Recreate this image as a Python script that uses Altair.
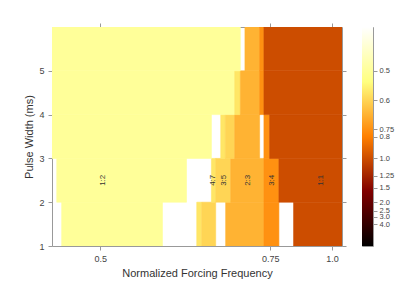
import altair as alt
import pandas as pd

# ---- data ----
ratio_names = ["1:2", "4:7", "3:5", "2:3", "3:4", "1:1"]
ratio_values = [0.5, 0.5714, 0.6, 0.6667, 0.75, 1.0]

# cells: pulse-width row (lower edge), forcing-frequency start/end, locking ratio
row_lo = [1, 1, 1, 1, 1, 1,
          2, 2, 2, 2, 2, 2,
          3, 3, 3, 3, 3, 3,
          4, 4, 4, 4, 4,
          5, 5, 5, 5]
f_start = [0.4707, 0.6055, 0.6129, 0.6521, 0.7334, 0.8215,
           0.4673, 0.6279, 0.6349, 0.6613, 0.7334, 0.7743,
           0.4500, 0.6434, 0.6516, 0.6689, 0.7334, 0.7482,
           0.4500, 0.6689, 0.6801, 0.7228, 0.7334,
           0.4500, 0.6896, 0.7228, 0.7334]
f_end = [0.5611, 0.6129, 0.6349, 0.7334, 0.7743, 1.1000,
         0.5912, 0.6349, 0.6613, 0.7334, 0.7743, 1.1000,
         0.6279, 0.6516, 0.6689, 0.7228, 0.7482, 1.1000,
         0.6689, 0.6801, 0.7228, 0.7334, 1.1000,
         0.6801, 0.7228, 0.7334, 1.1000]
cell_ratio = ["1:2", "4:7", "3:5", "2:3", "3:4", "1:1",
              "1:2", "4:7", "3:5", "2:3", "3:4", "1:1",
              "1:2", "4:7", "3:5", "2:3", "3:4", "1:1",
              "1:2", "4:7", "2:3", "3:4", "1:1",
              "1:2", "2:3", "3:4", "1:1"]

label_text = ["1:2", "4:7", "3:5", "2:3", "3:4", "1:1"]
label_x = [0.502, 0.630, 0.6487, 0.6954, 0.7536, 0.9355]
label_y = [2.5, 2.5, 2.5, 2.5, 2.5, 2.5]

x_ticks = [0.5, 0.75, 1.0]
x_tick_labels = ["0.5", "0.75", "1.0"]
y_ticks = [1, 2, 3, 4, 5]
cbar_ticks = [0.5, 0.6, 0.75, 0.8, 1.0, 1.25, 1.5, 2.0, 2.5, 3.0, 4.0]
cbar_tick_labels = ["0.5", "0.6", "0.75", "0.8", "1.0", "1.25", "1.5", "2.0", "2.5", "3.0", "4.0"]

# ---- tables ----
rv = dict(zip(ratio_names, ratio_values))
cells = pd.DataFrame({
    "y0": row_lo,
    "y1": [r + 1 for r in row_lo],
    "f0": f_start,
    "f1": f_end,
    "ratio": cell_ratio,
})
cells["inv"] = [1.0 / rv[r] for r in cell_ratio]

labels = pd.DataFrame({"t": label_text, "fx": label_x, "fy": label_y})

afmhot = ["#000000", "#800000", "#ff8000", "#ffff80", "#ffffff"]
FONT = "Liberation Sans"

xscale = alt.Scale(type="pow", exponent=-1.9, domain=[0.4641, 1.0681], nice=False, zero=False)
yscale = alt.Scale(domain=[1, 6], nice=False, zero=False)
cscale = alt.Scale(domain=[0, 2.5], range=afmhot, interpolate="rgb")


def chain(vals, labs, tol=None):
    parts = []
    for v, l in zip(vals[:-1], labs[:-1]):
        if tol:
            parts.append(f"abs(datum.value - {v!r}) < {tol} ? '{l}'")
        else:
            parts.append(f"datum.value == {v!r} ? '{l}'")
    return " : ".join(parts) + f" : '{labs[-1]}'"


rects = alt.Chart(cells).mark_rect(clip=True, strokeWidth=0.6).encode(
    x=alt.X("f0:Q", scale=xscale,
            axis=alt.Axis(values=x_ticks, labelExpr=chain(x_ticks, x_tick_labels),
                          title="Normalized Forcing Frequency", domain=False)),
    x2="f1:Q",
    y=alt.Y("y0:Q", scale=yscale,
            axis=alt.Axis(values=y_ticks, title="Pulse Width (ms)", domain=False)),
    y2="y1:Q",
    color=alt.Color("inv:Q", scale=cscale, legend=None),
    stroke=alt.Stroke("inv:Q", scale=cscale, legend=None),
)

texts = alt.Chart(labels).mark_text(angle=270, fontSize=8, color="#333", font=FONT).encode(
    x=alt.X("fx:Q", scale=xscale,
            axis=alt.Axis(orient="top", values=x_ticks, labels=False, title=None, domain=False)),
    y=alt.Y("fy:Q", scale=yscale,
            axis=alt.Axis(orient="right", values=y_ticks, labels=False, title=None, domain=False)),
    text="t:N",
)

main = alt.layer(rects, texts).resolve_axis(x="independent", y="independent").properties(
    width=290, height=219)

cb_u = [1.0 / v for v in cbar_ticks]
cb = alt.Chart(pd.DataFrame({"lo": [0.0], "hi": [2.5]})).mark_rect(
    fill=alt.LinearGradient(
        gradient="linear",
        stops=[alt.GradientStop(color=c, offset=i / 4) for i, c in enumerate(afmhot)],
        x1=0, x2=0, y1=1, y2=0,
    )
).encode(
    y=alt.Y("lo:Q", scale=alt.Scale(domain=[0, 2.5], nice=False, zero=False),
            axis=alt.Axis(orient="right", values=cb_u, title=None, domain=False,
                          labelExpr=chain(cb_u, cbar_tick_labels, tol=1e-6),
                          labelOverlap=False, labelFontSize=7.5, labelPadding=2)),
    y2="hi:Q",
    x=alt.value(0),
    x2=alt.value(11),
).properties(width=11, height=219)

chart = alt.hconcat(main, cb, spacing=14).properties(
    padding={"left": 15, "top": 14, "right": 5, "bottom": 5}
).configure_view(stroke="#999", strokeWidth=1).configure_axis(
    grid=False,
    tickColor="#999",
    tickSize=4,
    labelColor="#444",
    labelFont=FONT,
    labelFontSize=9,
    labelPadding=4,
    titleFont=FONT,
    titleFontSize=11,
    titleFontWeight="normal",
    titleColor="#333",
    titlePadding=4,
)

chart.save("out.html", embed_options={"renderer": "svg", "actions": False})
